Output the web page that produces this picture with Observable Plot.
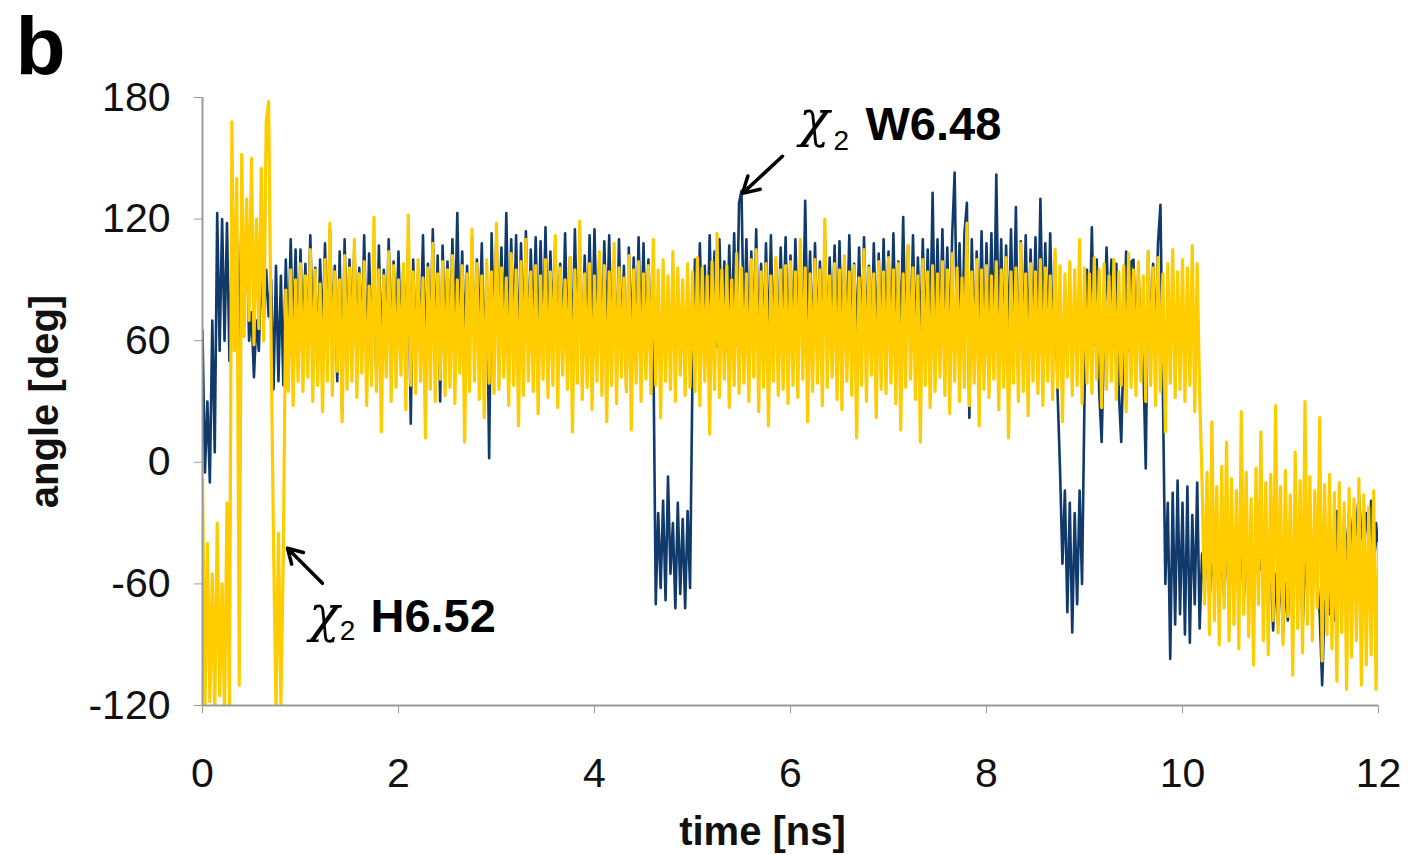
<!DOCTYPE html>
<html>
<head>
<meta charset="utf-8">
<script src="https://cdn.jsdelivr.net/npm/d3@7"></script>
<script src="https://cdn.jsdelivr.net/npm/@observablehq/plot@0.6"></script>
<style>
html, body { margin: 0; padding: 0; background: #fff; }
#chart svg { display: block; }
</style>
</head>
<body>
<div id="chart"></div>
<script>
// Tick values
const xTicks = [0, 2, 4, 6, 8, 10, 12];
const yTicks = [-120, -60, 0, 60, 120, 180];

// Sampling step of the trajectories (ns)
const dt = 0.025;

// chi2 H6.52 (yellow), read every 0.025 ns
const chiH652 = [
-8,-122,-40,-118,-55,-125,-30,-115,-60,-124,-20,-120,168,55,140,-110,152,62,130,70,
150,58,120,66,145,60,168,178,60,-40,-122,-35,-120,-45,85,35,95,28,90,40,
98,35,92,42,105,30,95,38,88,25,100,40,118,33,94,45,90,20,102,36,
96,40,110,32,93,44,99,28,87,38,121,35,95,15,92,42,104,30,97,37,
90,43,98,26,122,38,94,34,100,40,91,12,96,36,108,30,93,41,99,33,
95,37,102,29,90,44,97,10,93,35,115,40,98,31,92,22,100,39,94,34,
118,36,96,42,91,28,103,38,95,18,99,33,110,40,94,35,97,24,92,41,
100,32,94,38,112,27,96,43,90,36,101,15,95,39,119,31,93,37,98,26,
92,40,104,33,97,20,94,38,108,29,96,42,91,35,102,16,95,39,99,30,
93,41,97,34,110,38,95,22,100,40,92,36,104,30,96,43,90,33,98,37,
94,35,101,28,96,40,92,14,99,36,113,32,95,41,97,27,90,38,103,34,
96,39,93,30,100,42,105,25,94,37,98,18,92,40,101,33,95,36,97,29,
99,38,94,32,110,41,96,20,93,35,100,39,95,28,120,37,92,42,98,31,
95,26,102,40,94,33,97,12,91,38,105,30,96,43,93,22,99,36,94,34,
101,39,95,29,98,16,93,37,107,41,96,31,92,10,100,38,94,27,97,35,
93,42,99,33,95,24,103,40,96,30,91,37,118,28,94,39,100,18,95,36,
97,32,92,41,99,26,95,37,101,12,94,39,96,30,108,35,93,23,98,40,
94,34,100,28,96,40,92,31,105,37,97,20,93,42,99,33,95,38,110,29,
96,39,93,34,101,41,95,27,98,36,92,40,100,31,94,38,97,25,103,37,
95,33,99,40,92,30,104,38,96,28,101,35,93,15,98,39,105,32,94,36,
100,30,96,38,107,25,98,34,-10,-70,-5,-85,20,-78,-12,-90,-2,-72,10,-88,
-8,-80,-14,-92,25,-75,-5,-86,-18,-100,-3,-70,15,-88,-10,-95,-6,-78,28,-84,
-12,-90,-4,-76,-16,-105,5,-82,-9,-94,30,-80,-7,-88,-14,-72,22,-98,-11,-85,
-6,-92,-15,-108,-10,-84,-20,-112,-13,-96,-18,-88,-8,-110,-16,-100,-22,-95,-14,-112,
-40
];

// chi2 W6.48 (dark blue), read every 0.025 ns
const chiW648 = [
65,-5,30,-10,70,5,123,55,120,60,118,50,105,65,110,55,128,70,122,60,
74,42,70,55,97,70,95,72,90,36,97,40,92,38,100,55,110,60,105,50,
105,60,98,55,112,65,96,50,100,62,108,58,115,64,97,40,104,24,110,56,
100,62,108,55,96,60,112,48,103,58,98,38,107,52,95,60,110,57,99,63,
104,58,97,61,109,19,100,56,94,62,112,50,98,59,115,57,102,30,107,60,
99,55,110,63,123,58,104,60,97,52,111,57,100,64,108,49,96,2,113,58,
115,54,106,61,123,57,110,63,112,50,108,59,114,56,105,62,111,55,109,60,
116,57,104,64,110,52,98,60,113,58,101,55,115,61,107,50,102,59,112,56,
115,60,103,54,109,62,112,57,100,48,110,58,97,35,106,60,101,56,111,59,
108,57,100,62,60,-70,-25,-62,-19,-68,-7,-55,-30,-72,-20,-65,-28,-72,-24,-62,
45,100,58,108,62,97,55,112,60,104,57,110,63,99,55,107,60,113,58,128,
134,60,110,56,104,62,115,58,98,61,108,54,112,60,100,57,106,63,111,55,
102,59,110,61,97,56,129,60,104,54,108,62,99,58,113,57,101,60,107,55,
109,58,100,62,112,55,98,60,106,57,111,63,97,54,108,60,103,56,110,61,
104,57,113,60,99,62,121,55,107,59,112,56,101,60,110,58,105,62,133,57,
110,58,115,61,106,56,112,143,60,108,55,113,128,22,110,57,104,62,114,56,
108,60,113,57,142,62,110,55,107,59,115,61,126,40,109,58,112,56,105,60,
111,57,130,62,108,58,113,60,100,35,-3,-50,-14,-74,-20,-84,-25,-70,-14,-60,
32,95,60,116,58,100,35,10,62,106,68,100,57,98,35,10,60,104,55,99,
100,58,96,62,50,-3,104,60,98,57,108,127,35,-60,-20,-97,-15,-80,-9,-75,
-20,-85,-12,-89,-26,-70,-10,-82,-45,-62,-40,-67,-50,-58,-35,-60,-48,-66,-42,-55,
-40,-55,-45,-60,-38,-67,-50,-58,-42,-62,-35,-55,-48,-60,-40,-57,-52,-83,-55,-80,
-52,-85,-60,-78,-45,-62,-40,-58,-35,-83,-50,-62,-45,-60,-50,-58,-75,-110,-70,-65,
-75,-55,-78,-24,-45,-60,-26,-50,-23,-36,-45,-30,-16,-36,-40,-25,-40,-19,-59,-30,
-45
];

// Annotations (in data units: time ns, angle deg)
const annoLabels = [
  {t: 6.765, v: 166.5, label: "W6.48"},
  {t: 1.714, v: -76.5, label: "H6.52"}
];
const annoChi = [
  {t: 6.09, v: 169, label: "χ"},
  {t: 1.09, v: -75.5, label: "χ"}
];
const annoSub = [
  {t: 6.44, v: 158.4, label: "2"},
  {t: 1.40, v: -83.4, label: "2"}
];
const annoArrows = [
  {t1: 5.918, v1: 151, t2: 5.51, v2: 132.7},
  {t1: 1.224, v1: -59.7, t2: 0.867, v2: -42.4}
];

const xTitle = "time [ns]";
const yTitle = "angle [deg]";
const panelLetter = "b";

const toRows = (vals) => vals.map((v, i) => ({t: i * dt, v}));
const yellowRows = toRows(chiH652);
const blueRows = toRows(chiW648);

const sans = "'Liberation Sans', Arial, Helvetica, sans-serif";
const axisGray = "#9a9a9a";

const chart = Plot.plot({
  width: 1409,
  height: 855,
  marginLeft: 202,
  marginRight: 31,
  marginTop: 97,
  marginBottom: 150,
  style: {fontFamily: sans, background: "#fff", color: "#111", overflow: "visible"},
  x: {domain: [0, 12]},
  y: {domain: [-120, 180]},
  marks: [
    Plot.line(blueRows, {x: "t", y: "v", stroke: "#103a6b", strokeWidth: 2.6,
      strokeLinejoin: "round", clip: true}),
    Plot.line(yellowRows, {x: "t", y: "v", stroke: "#FFCC00", strokeWidth: 3.2,
      strokeLinejoin: "round", clip: true}),
    Plot.ruleX([0], {stroke: axisGray, strokeWidth: 2}),
    Plot.ruleY([-120], {stroke: axisGray, strokeWidth: 2}),
    Plot.axisX(xTicks, {tickSize: 8, tickPadding: 44, fontSize: 41, label: null,
      stroke: axisGray, fill: "#111", tickFormat: d => String(d)}),
    Plot.axisY(yTicks, {tickSize: 8, tickPadding: 24, fontSize: 41, label: null,
      stroke: axisGray, fill: "#111", tickFormat: d => String(d)}),
    Plot.text([xTitle], {text: d => d, frameAnchor: "bottom", dx: -28, dy: 127, fontSize: 40,
      fontWeight: "bold", fill: "#111", textAnchor: "middle", lineAnchor: "middle"}),
    Plot.text([yTitle], {text: d => d, frameAnchor: "left", dx: -157, rotate: -90,
      fontSize: 40, fontWeight: "bold", fill: "#111", textAnchor: "middle", lineAnchor: "middle"}),
    Plot.text([panelLetter], {text: d => d, frameAnchor: "top-left", dx: -162, dy: -50,
      fontSize: 82, fontWeight: "bold", fill: "#000", textAnchor: "middle", lineAnchor: "middle"}),
    Plot.arrow(annoArrows, {x1: "t1", y1: "v1", x2: "t2", y2: "v2", stroke: "#000",
      strokeWidth: 3.5, headLength: 16}),
    Plot.text(annoLabels, {x: "t", y: "v", text: "label", textAnchor: "start",
      fontSize: 47, fontWeight: "bold", fill: "#000"}),
    Plot.text(annoChi, {x: "t", y: "v", text: "label", textAnchor: "start",
      fontSize: 50, fontStyle: "italic", fontFamily: "'DejaVu Serif', 'Liberation Serif', serif", fill: "#000"}),
    Plot.text(annoSub, {x: "t", y: "v", text: "label", textAnchor: "start",
      fontSize: 28, fill: "#000"})
  ]
});
document.getElementById("chart").appendChild(chart);
</script>
</body>
</html>
